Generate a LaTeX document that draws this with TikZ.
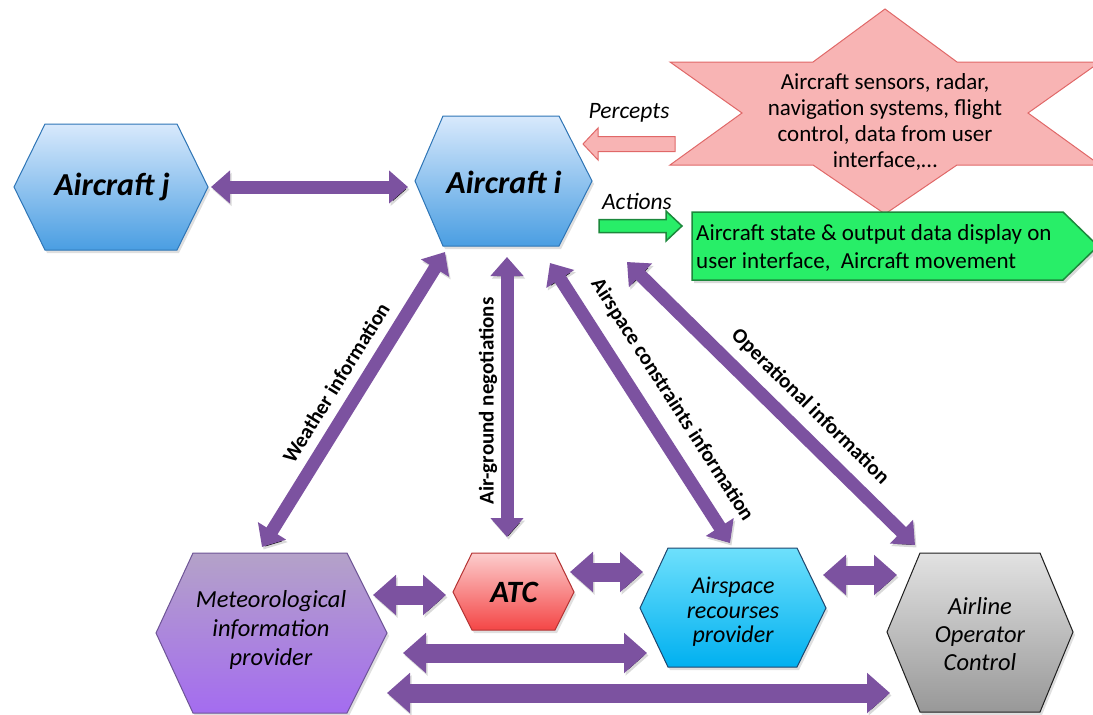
\documentclass[tikz,border=0pt]{standalone}
\usepackage{fontspec}
\setmainfont{Carlito}
\usetikzlibrary{arrows.meta,shadows}

\definecolor{flowpurple}{RGB}{124,82,160}
\definecolor{acfilltop}{RGB}{216,233,252}
\definecolor{acfillmid}{RGB}{190,219,248}
\definecolor{acfillbot}{RGB}{74,158,226}
\definecolor{acline}{RGB}{46,117,182}
\definecolor{metop}{RGB}{180,162,200}
\definecolor{metbot}{RGB}{164,108,240}
\definecolor{metline}{RGB}{110,84,150}
\definecolor{atctop}{RGB}{252,205,205}
\definecolor{atcbot}{RGB}{244,70,70}
\definecolor{atcline}{RGB}{180,50,50}
\definecolor{asptop}{RGB}{110,224,252}
\definecolor{aspbot}{RGB}{0,176,240}
\definecolor{aspline}{RGB}{30,70,110}
\definecolor{aoctop}{RGB}{226,226,226}
\definecolor{aocbot}{RGB}{152,152,152}
\definecolor{aocline}{RGB}{30,30,30}
\definecolor{starfill}{RGB}{248,180,180}
\definecolor{starline}{RGB}{224,104,104}
\definecolor{outfill}{RGB}{40,238,104}
\definecolor{outline}{RGB}{28,136,60}

\begin{document}
\begin{tikzpicture}[x=1pt,y=-1pt,
  hexbox/.style={line width=1pt, drop shadow={opacity=0.25,shadow xshift=2pt,shadow yshift=-3pt}},
  aircraft/.style={hexbox, draw=acline, top color=acfilltop, middle color=acfillmid, bottom color=acfillbot},
  flowshade/.style={preaction={draw=black, draw opacity=0.15, transform canvas={shift={(1.5pt,-2.5pt)}}}},
  flow/.style={flowshade, draw=flowpurple, line width=13pt,
    {Triangle[length=19pt,width=32pt]}-{Triangle[length=19pt,width=32pt]}},
  wideflow/.style={flowshade, draw=flowpurple, line width=19pt,
    {Triangle[length=23pt,width=39pt]}-{Triangle[length=23pt,width=39pt]}},
  flowlabel/.style={font=\fontsize{21}{24}\selectfont\bfseries, inner sep=0pt},
  bigname/.style={font=\fontsize{32}{36}\selectfont\bfseries\itshape, inner sep=0pt, anchor=base},
  groundname/.style={font=\itshape, inner sep=0pt, align=center},
]
\useasboundingbox (0,0) rectangle (1093,715);

% ---------- sensor star ----------
\path[fill=starfill, draw=starline, line width=1pt]
  (885,9) -- (957,62) -- (1100,62) -- (1028,113) -- (1100,165) -- (957,165)
  -- (885,214) -- (813,165) -- (670,165) -- (742,113) -- (670,62) -- (813,62) -- cycle;
\node[font=\fontsize{23}{25.7}\selectfont, align=center, inner sep=0pt] (sensors) at (885,122)
  {Aircraft sensors, radar,\\navigation systems, flight\\control, data from user\\interface,\dots};

% ---------- output box ----------
\path[fill=outfill, draw=outline, line width=1.5pt, drop shadow={opacity=0.3,shadow xshift=2pt,shadow yshift=-3pt}]
  (692,212) -- (1063,212) -- (1098,246) -- (1063,280) -- (692,280) -- cycle;
\node[font=\fontsize{23}{28}\selectfont, align=left, inner sep=0pt, anchor=west] (output) at (696,248)
  {Aircraft state \& output data display on\\user interface,~ Aircraft movement};

% ---------- aircraft ----------
\path[aircraft] (14,187) -- (45,124) -- (177,124) -- (208,187) -- (177,250) -- (45,250) -- cycle;
\node[bigname] (acj) at (112,195) {Aircraft j};
\path[aircraft] (415,181) -- (443,116) -- (559,116) -- (592,181) -- (559,246) -- (443,246) -- cycle;
\node[bigname] (aci) at (504,193) {Aircraft i};

% ---------- ground actors ----------
\path[hexbox, draw=metline, top color=metop, bottom color=metbot]
  (156,633) -- (193,553) -- (347,553) -- (387,633) -- (347,713) -- (193,713) -- cycle;
\node[groundname, font=\fontsize{24.5}{29}\selectfont\itshape] (met) at (271,630)
  {Meteorological\\information\\provider};

\path[hexbox, draw=atcline, top color=atctop, bottom color=atcbot]
  (453,592) -- (472,553) -- (555,553) -- (574,592) -- (555,630) -- (472,630) -- cycle;
\node[bigname, font=\fontsize{31}{36}\selectfont\bfseries\itshape] (atc) at (514,602) {ATC};

\path[hexbox, draw=aspline, top color=asptop, bottom color=aspbot]
  (640,608) -- (668,548) -- (797,548) -- (826,608) -- (797,667) -- (668,667) -- cycle;
\node[groundname, font=\fontsize{24}{24.5}\selectfont\itshape] (asp) at (733,612)
  {Airspace\\recourses\\provider};

\path[hexbox, draw=aocline, top color=aoctop, bottom color=aocbot]
  (887,632) -- (920,553) -- (1040,553) -- (1073,632) -- (1040,712) -- (920,712) -- cycle;
\node[groundname, font=\fontsize{24.5}{28}\selectfont\itshape] (aoc) at (980,634)
  {Airline\\Operator\\Control};

% ---------- percepts / actions ----------
\path[fill=starfill, draw=starline, line width=1pt]
  (675,136.5) -- (598,136.5) -- (598,128) -- (583,144) -- (598,160) -- (598,151.5) -- (675,151.5) -- cycle;
\node[font=\fontsize{23.5}{26}\selectfont\itshape, anchor=base, inner sep=0pt] (percepts) at (629,118) {Percepts};
\path[fill=outfill, draw=outline, line width=1.5pt]
  (599,219.5) -- (666,219.5) -- (666,211) -- (682,226) -- (666,241) -- (666,232.5) -- (599,232.5) -- cycle;
\node[font=\fontsize{23.5}{26}\selectfont\itshape, anchor=base, inner sep=0pt] (actions) at (637,209) {Actions};

% ---------- information flows ----------
\coordinate (jR) at (211,187);   \coordinate (iL) at (408,187);
\coordinate (wB) at (262,547);   \coordinate (wT) at (445,252);
\coordinate (gT) at (507,257);   \coordinate (gB) at (507,537);
\coordinate (cT) at (550,263);   \coordinate (cB) at (730,543);
\coordinate (oT) at (627,262);   \coordinate (oB) at (915,545);
\coordinate (mA1) at (373,595);  \coordinate (mA2) at (446,595);
\coordinate (aS1) at (570,572);  \coordinate (aS2) at (643,572);
\coordinate (sO1) at (823,575);  \coordinate (sO2) at (897,575);
\coordinate (mS1) at (403,653);  \coordinate (mS2) at (647,653);
\coordinate (mO1) at (387,693);  \coordinate (mO2) at (890,693);

\draw[flow] (jR) -- (iL);
\draw[flow] (wB) -- (wT);
\draw[flow] (gT) -- (gB);
\draw[flow] (cT) -- (cB);
\draw[flow] (oT) -- (oB);
\draw[wideflow] (mA1) -- (mA2);
\draw[wideflow] (aS1) -- (aS2);
\draw[wideflow] (sO1) -- (sO2);
\draw[wideflow] (mS1) -- (mS2);
\draw[wideflow] (mO1) -- (mO2);

\node[flowlabel, rotate=58.2] (wlab) at (336,383) {Weather information};
\node[flowlabel, rotate=90] (glab) at (488,401) {Air-ground negotiations};
\node[flowlabel, rotate=-57.3] (clab) at (672,400) {Airspace constraints information};
\node[flowlabel, rotate=-44.5] (olab) at (810,407) {Operational information};
\end{tikzpicture}
\end{document}
